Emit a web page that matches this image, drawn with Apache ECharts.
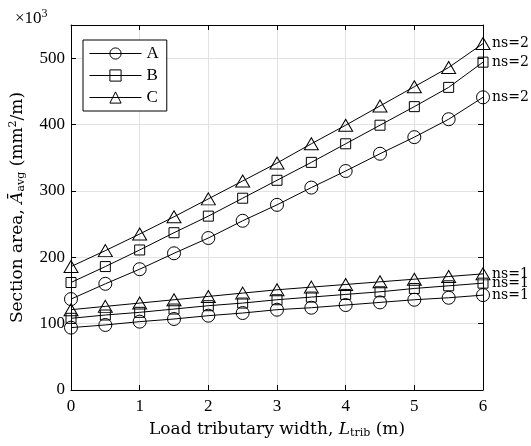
<!DOCTYPE html>
<html>
<head>
<meta charset="utf-8">
<style>
html, body { margin: 0; padding: 0; background: #fff; }
#chart { width: 531px; height: 446px; }
</style>
<script src="https://cdn.jsdelivr.net/npm/echarts@6/dist/echarts.min.js"></script>
</head>
<body>
<div id="chart"></div>
<script>
// tributary width (m)
const widths = [0, 0.5, 1, 1.5, 2, 2.5, 3, 3.5, 4, 4.5, 5, 5.5, 6]
// section area x10^3 mm2/m
const aNs2 = [137, 160, 182, 206, 229, 255, 279, 305, 330, 356, 381, 408, 441]
const bNs2 = [162, 186, 211, 237, 262, 289, 316, 343, 371, 399, 427, 456, 494]
const cNs2 = [186, 210, 235, 261, 288, 315, 342, 371, 399, 428, 457, 486, 522]
const aNs1 = [94, 98, 103, 107, 112, 116, 121, 124, 128, 132, 136, 139, 143]
const bNs1 = [108, 113, 117, 122, 127, 131, 136, 140, 144, 148, 153, 157, 161]
const cNs1 = [121, 126, 131, 136, 141, 146, 151, 155, 159, 163, 167, 171, 175]

const font = 'Liberation Serif'
const wide = 'DejaVu Serif'

function pairs (ys) {
  return widths.map((x, i) => [x, ys[i]])
}

function mkSeries (name, ys, symbol, size, tag) {
  return {
    name: name,
    type: 'line',
    data: pairs(ys),
    symbol: symbol,
    symbolSize: size,
    showAllSymbol: true,
    lineStyle: { color: '#000', width: 1 },
    itemStyle: { color: 'rgba(0,0,0,0)', borderColor: '#000', borderWidth: 1 },
    emphasis: { disabled: true },
    endLabel: {
      show: true,
      formatter: tag,
      distance: 9,
      color: '#000',
      fontFamily: wide,
      fontSize: 14
    },
    z: 3
  }
}

// box axes (top / right), ticks only
const boxAxis = {
  axisLine: { show: true, onZero: false, lineStyle: { color: '#000', width: 1 } },
  axisTick: { show: true, inside: true, length: 5, lineStyle: { color: '#000' } },
  axisLabel: { show: false },
  splitLine: { show: false }
}

const chart = echarts.init(document.getElementById('chart'))
chart.setOption({
  animation: false,
  title: {
    text: '×10{sup|3}',
    left: 10,
    top: 3,
    textStyle: {
      fontFamily: font,
      fontSize: 17,
      fontWeight: 'normal',
      color: '#000',
      rich: { sup: { fontFamily: font, fontSize: 12, verticalAlign: 'top', padding: [0, 0, 9, 0], color: '#000' } }
    }
  },
  legend: {
    left: 83,
    top: 40,
    orient: 'vertical',
    backgroundColor: '#fff',
    borderColor: '#000',
    borderWidth: 1,
    padding: [5, 8, 5, 6],
    itemGap: 5,
    itemWidth: 52,
    itemHeight: 14,
    lineStyle: { width: 1, color: '#000' },
    itemStyle: { borderWidth: 1, borderColor: '#000', color: 'rgba(0,0,0,0)' },
    textStyle: { fontFamily: font, fontSize: 17, color: '#000' },
    data: ['A', 'B', 'C']
  },
  grid: { left: 69, right: 48, top: 25, bottom: 56 },
  xAxis: [{
    type: 'value',
    min: 0,
    max: 6,
    interval: 1,
    name: 'Load tributary width, {i|L}{sub|trib} (m)',
    nameLocation: 'middle',
    nameGap: 31,
    nameTextStyle: {
      fontFamily: wide,
      fontSize: 17,
      color: '#000',
      rich: {
        i: { fontFamily: wide, fontSize: 17, fontStyle: 'italic', color: '#000' },
        sub: { fontFamily: wide, fontSize: 11, verticalAlign: 'bottom', padding: [7, 0, 0, 0], color: '#000' }
      }
    },
    axisLine: { onZero: false, lineStyle: { color: '#000', width: 1 } },
    axisTick: { inside: true, length: 5, lineStyle: { color: '#000' } },
    axisLabel: { fontFamily: font, fontSize: 17, color: '#000', margin: 8 },
    splitLine: { show: true, lineStyle: { color: '#e2e2e2', width: 1 } }
  }, Object.assign({
    type: 'value',
    position: 'top',
    min: 0,
    max: 6,
    interval: 1
  }, boxAxis)],
  yAxis: [{
    type: 'value',
    min: 0,
    max: 550,
    interval: 100,
    name: 'Section area, {i|Ā}{sub|avg} (mm{sup|2}/m)',
    nameLocation: 'middle',
    nameGap: 44,
    nameTextStyle: {
      fontFamily: wide,
      fontSize: 17,
      color: '#000',
      rich: {
        i: { fontFamily: wide, fontSize: 17, fontStyle: 'italic', color: '#000' },
        sub: { fontFamily: wide, fontSize: 11, verticalAlign: 'bottom', padding: [7, 0, 0, 0], color: '#000' },
        sup: { fontFamily: wide, fontSize: 11, verticalAlign: 'top', padding: [0, 0, 8, 0], color: '#000' }
      }
    },
    axisLine: { show: true, onZero: false, lineStyle: { color: '#000', width: 1 } },
    axisTick: { show: true, inside: true, length: 5, lineStyle: { color: '#000' } },
    axisLabel: { fontFamily: font, fontSize: 17, color: '#000', margin: 6, showMaxLabel: false },
    splitLine: { show: true, lineStyle: { color: '#e2e2e2', width: 1 } }
  }, Object.assign({
    type: 'value',
    position: 'right',
    min: 0,
    max: 550,
    interval: 100
  }, boxAxis)],
  series: [
    mkSeries('A', aNs2, 'circle', 13, 'ns=2'),
    mkSeries('B', bNs2, 'rect', 10, 'ns=2'),
    mkSeries('C', cNs2, 'triangle', [14, 12], 'ns=2'),
    mkSeries('A', aNs1, 'circle', 13, 'ns=1'),
    mkSeries('B', bNs1, 'rect', 10, 'ns=1'),
    mkSeries('C', cNs1, 'triangle', [14, 12], 'ns=1')
  ]
})
</script>
</body>
</html>
